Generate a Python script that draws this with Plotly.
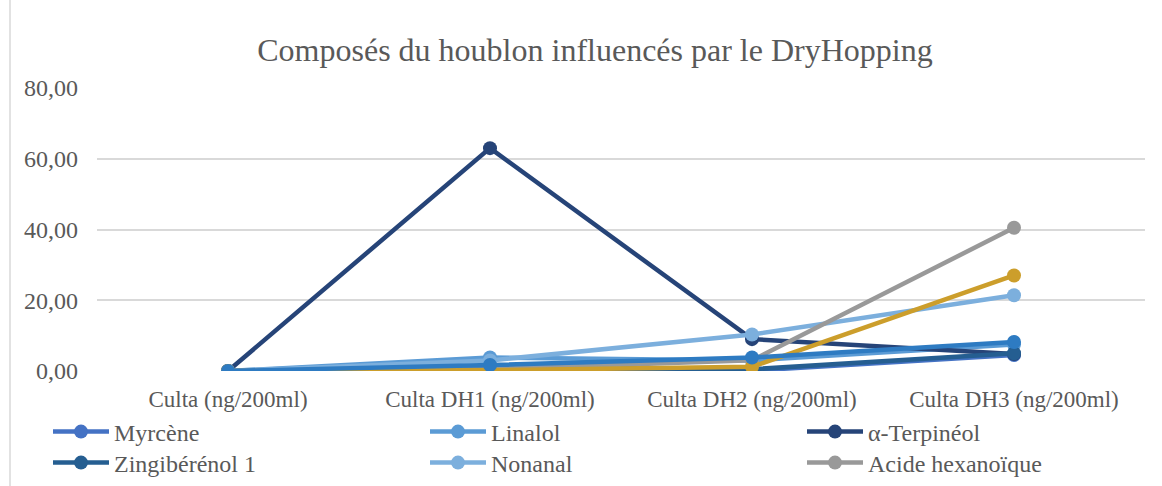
import plotly.graph_objects as go

categories = ["Culta (ng/200ml)", "Culta DH1 (ng/200ml)", "Culta DH2 (ng/200ml)", "Culta DH3 (ng/200ml)"]

myrcene = [0.0, 0.5, 0.1, 4.5]
linalol = [0.0, 3.8, 3.0, 7.5]
terpineol = [0.0, 63.0, 9.0, 4.8]
zingiberenol = [0.0, 1.0, 0.5, 5.0]
nonanal = [0.0, 3.0, 10.3, 21.4]
acide_hexanoique = [0.0, 0.5, 3.0, 40.5]
geraniol = [0.0, 0.2, 1.2, 27.0]
humulene = [0.0, 1.7, 3.8, 8.2]

# name, values, colour, legend slot (column, row) or None when not listed
series = [
    ("Myrcène", myrcene, "#4472C4", (0, 0)),
    ("Linalol", linalol, "#5B9BD5", (1, 0)),
    ("α-Terpinéol", terpineol, "#264478", (2, 0)),
    ("Zingibérénol 1", zingiberenol, "#255E91", (0, 1)),
    ("Nonanal", nonanal, "#7CAFDD", (1, 1)),
    ("Acide hexanoïque", acide_hexanoique, "#999999", (2, 1)),
    ("Géraniol", geraniol, "#CC9E2B", None),
    ("Humulène", humulene, "#2E7BC2", None),
]

FONT = "Liberation Serif"
TEXT = "#595959"
W, H = 1162, 486
L, R, T, B = 97, 17, 88, 115
PW, PH = W - L - R, H - T - B

COL_X = [48, 425, 802]   # left edge of each legend column, px
ROW_Y = [432, 463]       # vertical centre of each legend row, px

fig = go.Figure()
legends = {}
n_leg = 0
for name, vals, color, slot in series:
    leg_id = "legend"
    if slot is not None:
        n_leg += 1
        leg_id = "legend" if n_leg == 1 else f"legend{n_leg}"
        col, row = slot
        legends[leg_id] = dict(
            orientation="v",
            x=(COL_X[col] - L) / PW, xanchor="left",
            y=-(ROW_Y[row] - (T + PH)) / PH, yanchor="middle",
            font=dict(size=24, color=TEXT, family=FONT),
            itemwidth=56, tracegroupgap=0, bgcolor="rgba(0,0,0,0)",
        )
    fig.add_trace(go.Scatter(
        x=categories, y=vals, name=name, mode="lines+markers",
        line=dict(color=color, width=4.5),
        marker=dict(color=color, size=14),
        showlegend=slot is not None,
        legend=leg_id,
    ))

fig.update_layout(
    width=W, height=H,
    margin=dict(l=L, r=R, t=T, b=B, autoexpand=False),
    paper_bgcolor="white", plot_bgcolor="white",
    separators=", ",
    font=dict(family=FONT, color=TEXT, size=22),
    title=dict(text="Composés du houblon influencés par le DryHopping",
               x=595 / W, xref="container", xanchor="center",
               y=1 - 50 / H, yref="container", yanchor="middle",
               font=dict(family=FONT, size=32, color=TEXT)),
    xaxis=dict(type="category", range=[-0.5, 3.5], showgrid=False,
               showline=False, zeroline=False, ticks="",
               ticklabelstandoff=12,
               tickfont=dict(size=23, color=TEXT, family=FONT)),
    yaxis=dict(range=[0, 80], dtick=20, tickformat=".2f",
               showgrid=True, gridcolor="#D9D9D9", gridwidth=1.5,
               zeroline=False, showline=False, ticks="",
               ticklabelstandoff=18,
               tickfont=dict(size=24, color=TEXT, family=FONT)),
    shapes=[dict(type="line", xref="paper", yref="paper",
                 x0=(10 - L) / PW, x1=(10 - L) / PW, y0=-0.5, y1=1.4,
                 line=dict(color="#D9D9D9", width=1.5))],
    **legends,
)

fig.write_html("out.html")
